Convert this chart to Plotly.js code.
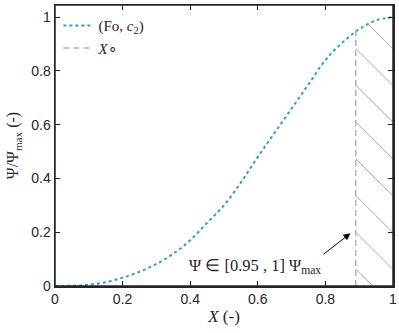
<!DOCTYPE html>
<html>
<head>
<meta charset="utf-8">
<script src="https://cdn.plot.ly/plotly-3.0.1.min.js"></script>
<style>
  html, body { margin: 0; padding: 0; background: #fff; overflow: hidden; }
  #plotArea { width: 399px; height: 333px; }
</style>
</head>
<body>
<div id="plotArea"></div>
<script>
// curve
var xs = [0, 0.05, 0.1, 0.15, 0.2, 0.25, 0.3, 0.35, 0.4, 0.45, 0.5, 0.55, 0.6, 0.65, 0.7, 0.75, 0.8, 0.85, 0.9, 0.95, 1.0];
var psi = [0, 0.001, 0.005, 0.014, 0.031, 0.053, 0.082, 0.12, 0.17, 0.235, 0.30, 0.385, 0.48, 0.57, 0.66, 0.75, 0.84, 0.905, 0.955, 0.988, 1.0];

// X° and the curve value there
var xStar = 0.89;
var yStar = 0.95;

var tickVals = [0, 0.2, 0.4, 0.6, 0.8, 1];
var tickText = ["0", "0.2", "0.4", "0.6", "0.8", "1"];

// hatched zone = curve from X° up to 1
var hatchX = [xStar];
var hatchY = [yStar];
for (var i = 0; i < xs.length; i++) {
    if (xs[i] > xStar) { hatchX.push(xs[i]); hatchY.push(psi[i]); }
}

var ink = "#262626";
var serif = "Liberation Serif, serif";

var hatch = {
    x: hatchX, y: hatchY, type: "scatter", mode: "lines",
    line: {width: 0, shape: "spline"}, fill: "tozeroy", fillcolor: "rgba(0,0,0,0)",
    fillpattern: {shape: "\\", size: 26, solidity: 0.03, fgcolor: "#8a8a8a", bgcolor: "rgba(0,0,0,0)"},
    showlegend: false, hoverinfo: "skip"
};

var curve = {
    x: xs, y: psi, type: "scatter", mode: "lines",
    name: "(Fo, <i>c</i><sub>2</sub>)",
    line: {color: "#2b9fd4", width: 2, dash: "dot", shape: "spline"}
};

var vline = {
    x: [xStar, xStar], y: [0, yStar], type: "scatter", mode: "lines",
    name: "<i>X</i>∘",
    line: {color: "#b3b3b3", width: 1.5, dash: "6px,4px"}
};

var axisCommon = {
    showgrid: false, zeroline: false, showline: true, linecolor: ink, linewidth: 1.5,
    mirror: "ticks", ticks: "inside", ticklen: 5, tickwidth: 1.2, tickcolor: ink,
    tickfont: {family: "Liberation Sans, Arial, sans-serif", size: 14, color: ink}
};

var layout = {
    width: 399, height: 333,
    margin: {l: 55, r: 6, t: 5, b: 47},
    paper_bgcolor: "#fff", plot_bgcolor: "#fff",
    showlegend: true,
    legend: {x: 0.01, y: 0.985, xanchor: "left", yanchor: "top", bgcolor: "rgba(0,0,0,0)",
        font: {family: serif, size: 15, color: ink}, tracegroupgap: 0},
    xaxis: Object.assign({}, axisCommon, {
        range: [0, 1], tickvals: tickVals, ticktext: tickText,
        title: {text: "<i>X</i> (-)", font: {family: serif, size: 17, color: ink}, standoff: 4}
    }),
    yaxis: Object.assign({}, axisCommon, {
        range: [0, 1.045], tickvals: tickVals, ticktext: tickText,
        title: {text: "Ψ/Ψ<sub>max</sub> (-)", font: {family: serif, size: 16, color: ink}, standoff: 8}
    }),
    shapes: [
        {type: "rect", xref: "paper", yref: "paper", x0: 0, x1: 1, y0: 0, y1: 1,
         line: {color: ink, width: 1.5}, layer: "above"}
    ],
    annotations: [
        {x: 0.874, y: 0.196, xref: "x", yref: "y", showarrow: true,
         ax: -27, ay: 21, xanchor: "right", yanchor: "top",
         arrowhead: 2, arrowsize: 1.4, arrowwidth: 1, arrowcolor: "#000",
         text: "Ψ ∈ [0.95 , 1] Ψ<sub>max</sub>", font: {family: serif, size: 16.5, color: ink}}
    ]
};

Plotly.newPlot("plotArea", [hatch, curve, vline], layout, {displayModeBar: false, staticPlot: true});
</script>
</body>
</html>
